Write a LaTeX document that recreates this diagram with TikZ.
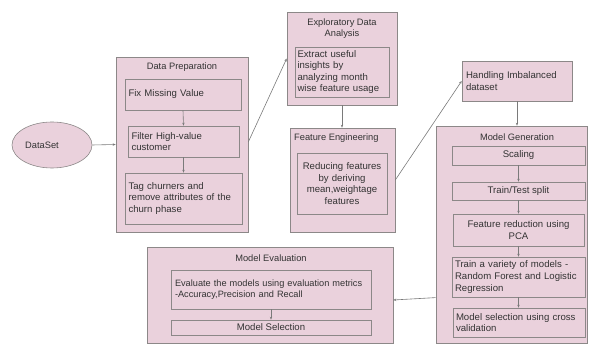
\documentclass[tikz,border=0pt]{standalone}
\usepackage{fontspec}
\setmainfont{Liberation Sans}
\usetikzlibrary{arrows.meta,shapes.geometric,calc}
\definecolor{boxfill}{HTML}{EAD1DC}
\definecolor{boxline}{HTML}{8C8888}
\definecolor{txt}{HTML}{333333}
\definecolor{conn}{HTML}{7A7A7A}
\begin{document}
\begin{tikzpicture}[x=1pt,y=-1pt,
  font=\fontsize{9.3}{11.5}\selectfont,
  box/.style={draw=boxline, fill=boxfill, line width=0.6pt, inner sep=0pt, text=txt,
    font=\fontsize{9.6}{11.6}\selectfont},
  lbox/.style={box, align=left},
  cbox/.style={box, align=center},
  ttl/.style={text=txt, inner sep=0pt, align=center},
  arr/.style={draw=conn, line width=0.6pt, -{Stealth[length=3pt,width=2.4pt]}}
]
\useasboundingbox (0,0) rectangle (590,347);

% DataSet
\node[ellipse, draw=boxline, fill=boxfill, line width=0.6pt, minimum width=80pt, minimum height=46pt] (ds) at (52,145) {};
\node[ttl] (dst) at (42,145) {DataSet};

% Data Preparation
\node[box, minimum width=132pt, minimum height=175pt] (dp) at (182,144.5) {};
\node[ttl] (dpt) at (182,67) {Data Preparation};
\node[lbox, minimum width=116pt, minimum height=31pt, text width=109pt] (fix) at (183,94.5) {Fix Missing Value};
\node[lbox, minimum width=111pt, minimum height=31pt, text width=104pt] (filt) at (183.5,141.5) {Filter High-value\\customer};
\node[lbox, minimum width=117pt, minimum height=51pt, text width=110pt] (tag) at (183.5,198.5) {Tag churners and\\remove attributes of the\\churn phase};

% Exploratory Data Analysis
\node[box, minimum width=110pt, minimum height=93pt] (eda) at (342,58.5) {};
\node[ttl] (edat) at (342,28.5) {Exploratory Data\\Analysis};
\node[lbox, minimum width=94pt, minimum height=50pt, text width=89pt] (edain) at (342,72) {Extract useful\\insights by\\analyzing month\\wise feature usage};

% Feature Engineering
\node[box, minimum width=105pt, minimum height=104pt] (fe) at (342.5,180) {};
\node[ttl, anchor=west] (fet) at (294,138) {Feature Engineering};
\node[cbox, minimum width=90pt, minimum height=61pt, text width=86pt] (fein) at (342,183.5) {Reducing features\\by deriving\\mean,weightage\\features};

% Handling Imbalanced
\node[lbox, minimum width=110pt, minimum height=40pt, text width=102pt] (hand) at (517,81) {Handling Imbalanced\\dataset};

% Model Generation
\node[box, minimum width=151pt, minimum height=217pt] (mg) at (511.5,234.5) {};
\node[ttl] (mgt) at (517,137) {Model Generation};
\node[cbox, minimum width=133pt, minimum height=19pt] (sc) at (518.5,155.5) {Scaling};
\node[cbox, minimum width=133pt, minimum height=18pt] (tt) at (518.5,191) {Train/Test split};
\node[cbox, minimum width=131pt, minimum height=32pt, text width=127pt] (fr) at (518.5,230) {Feature reduction using\\PCA};
\node[lbox, minimum width=133pt, minimum height=40pt, text width=127pt] (tv) at (518.5,277) {Train a variety of models -\\Random Forest and Logistic\\Regression};
\node[lbox, minimum width=132pt, minimum height=29pt, text width=126pt] (ms) at (519,322.5) {Model selection using cross\\validation};

% Model Evaluation
\node[box, minimum width=246pt, minimum height=96pt] (me) at (270,295) {};
\node[ttl] (met) at (271,258) {Model Evaluation};
\node[lbox, minimum width=200pt, minimum height=39pt, text width=192pt, font=\fontsize{9.2}{11.6}\selectfont] (ev) at (271,289.5) {\mbox{Evaluate the models using evaluation metrics}\\\mbox{-Accuracy,Precision and Recall}};
\node[cbox, minimum width=200pt, minimum height=15pt] (sel) at (271,327.5) {Model Selection};

% connectors
\draw[arr] (ds.east) -- (dp.west);
\draw[arr] (fix.south) -- (filt.north);
\draw[arr] (filt.south) -- (tag.north -| filt.south);
\draw[arr] ([yshift=2.5pt]dp.east) -- (eda.west);
\draw[arr] (eda.south) -- (eda.south |- fe.north);
\draw[arr] (fe.east) -- (hand.west);
\draw[arr] (hand.south) -- (hand.south |- mg.north);
\draw[arr] (sc.south) -- (sc.south |- tt.north);
\draw[arr] (tt.south) -- (tt.south |- fr.north);
\draw[arr] (fr.south) -- (fr.south |- tv.north);
\draw[arr] (tv.south) -- (tv.south |- ms.north);
\draw[arr] (ev.south) -- (ev.south |- sel.north);
\draw[arr] ($(mg.south west)!0.21!(mg.north west)$) -- ([yshift=-5pt]me.east);
\end{tikzpicture}
\end{document}
